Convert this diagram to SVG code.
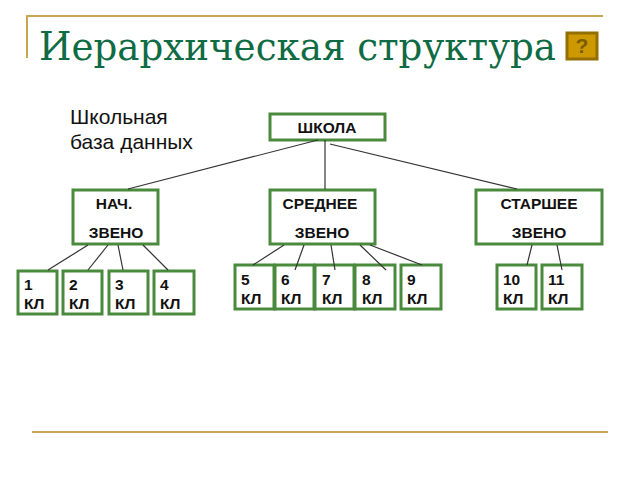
<svg xmlns="http://www.w3.org/2000/svg" width="640" height="480" viewBox="0 0 640 480">
<style>
.b{fill:#fff;stroke:#4a8a3c;stroke-width:3}
.t{font-family:"Liberation Sans",Arial,sans-serif;font-size:15.5px;font-weight:bold;fill:#111}
.m{text-anchor:middle}
.c line{stroke:#333;stroke-width:1.2}
.r{stroke:#c9a650;stroke-width:2;fill:none}
</style>
<rect width="640" height="480" fill="#fff"/>
<path class="r" d="M27 58V16H603"/>
<line class="r" x1="32" y1="432" x2="608" y2="432"/>
<text x="39" y="60" font-family="'DejaVu Serif Condensed','DejaVu Serif',serif" font-size="40" fill="#0f6b43" textLength="517" lengthAdjust="spacingAndGlyphs">Иерархическая структура</text>
<g id="help">
<rect x="567" y="33" width="30" height="26" fill="#cc9900" stroke="#946f00" stroke-width="3"/>
<text x="582" y="53" text-anchor="middle" font-family="'Liberation Sans',Arial,sans-serif" font-size="21" font-weight="bold" fill="#7a5c00">?</text>
</g>
<text font-family="'Liberation Sans',Arial,sans-serif" font-size="21" fill="#111"><tspan x="70" y="124">Школьная</tspan><tspan x="70" y="149">база данных</tspan></text>
<g id="n-school"><rect class="b" x="270" y="114" width="115" height="26"/><text class="t m" x="327" y="133">ШКОЛА</text></g>
<g id="n-nach"><rect class="b" x="73" y="190" width="85" height="54"/><text class="t m" x="114" y="209">НАЧ.</text><text class="t m" x="116" y="238">ЗВЕНО</text></g>
<g id="n-sred"><rect class="b" x="270" y="190" width="105" height="54"/><text class="t m" x="320" y="209">СРЕДНЕЕ</text><text class="t m" x="322" y="238">ЗВЕНО</text></g>
<g id="n-star"><rect class="b" x="476" y="190" width="126" height="54"/><text class="t m" x="539" y="209">СТАРШЕЕ</text><text class="t m" x="539" y="238">ЗВЕНО</text></g>
<g id="k1"><rect class="b" x="18" y="271" width="39" height="43"/><text class="t"><tspan x="24" y="290">1</tspan><tspan x="24" y="309">КЛ</tspan></text></g>
<g id="k2"><rect class="b" x="63" y="271" width="39" height="43"/><text class="t"><tspan x="69" y="290">2</tspan><tspan x="69" y="309">КЛ</tspan></text></g>
<g id="k3"><rect class="b" x="109" y="271" width="39" height="43"/><text class="t"><tspan x="115" y="290">3</tspan><tspan x="115" y="309">КЛ</tspan></text></g>
<g id="k4"><rect class="b" x="154" y="271" width="40" height="43"/><text class="t"><tspan x="160" y="290">4</tspan><tspan x="160" y="309">КЛ</tspan></text></g>
<g id="k5"><rect class="b" x="235" y="265" width="39" height="44"/><text class="t"><tspan x="241" y="285">5</tspan><tspan x="241" y="304">КЛ</tspan></text></g>
<g id="k6"><rect class="b" x="275" y="265" width="39" height="44"/><text class="t"><tspan x="281" y="285">6</tspan><tspan x="281" y="304">КЛ</tspan></text></g>
<g id="k7"><rect class="b" x="315" y="265" width="39" height="44"/><text class="t"><tspan x="322" y="285">7</tspan><tspan x="322" y="304">КЛ</tspan></text></g>
<g id="k8"><rect class="b" x="355" y="265" width="40" height="44"/><text class="t"><tspan x="362" y="285">8</tspan><tspan x="362" y="304">КЛ</tspan></text></g>
<g id="k9"><rect class="b" x="401" y="265" width="40" height="44"/><text class="t"><tspan x="407" y="285">9</tspan><tspan x="407" y="304">КЛ</tspan></text></g>
<g id="k10"><rect class="b" x="497" y="265" width="39" height="44"/><text class="t"><tspan x="503" y="285">10</tspan><tspan x="503" y="304">КЛ</tspan></text></g>
<g id="k11"><rect class="b" x="542" y="265" width="40" height="44"/><text class="t"><tspan x="548" y="285">11</tspan><tspan x="548" y="304">КЛ</tspan></text></g>
<g id="connectors" class="c">
<line x1="318" y1="140" x2="128" y2="189"/>
<line x1="325" y1="140" x2="325" y2="189"/>
<line x1="330" y1="144" x2="517" y2="189"/>
<line x1="88" y1="245" x2="48" y2="270"/>
<line x1="108" y1="245" x2="88" y2="270"/>
<line x1="118" y1="245" x2="123" y2="270"/>
<line x1="143" y1="245" x2="168" y2="270"/>
<line x1="284" y1="245" x2="253" y2="265"/>
<line x1="304" y1="245" x2="295" y2="270"/>
<line x1="331" y1="245" x2="335" y2="270"/>
<line x1="360" y1="245" x2="386" y2="270"/>
<line x1="370" y1="245" x2="422" y2="265"/>
<line x1="532" y1="245" x2="527" y2="265"/>
<line x1="557" y1="245" x2="562" y2="270"/>
</g>
</svg>
